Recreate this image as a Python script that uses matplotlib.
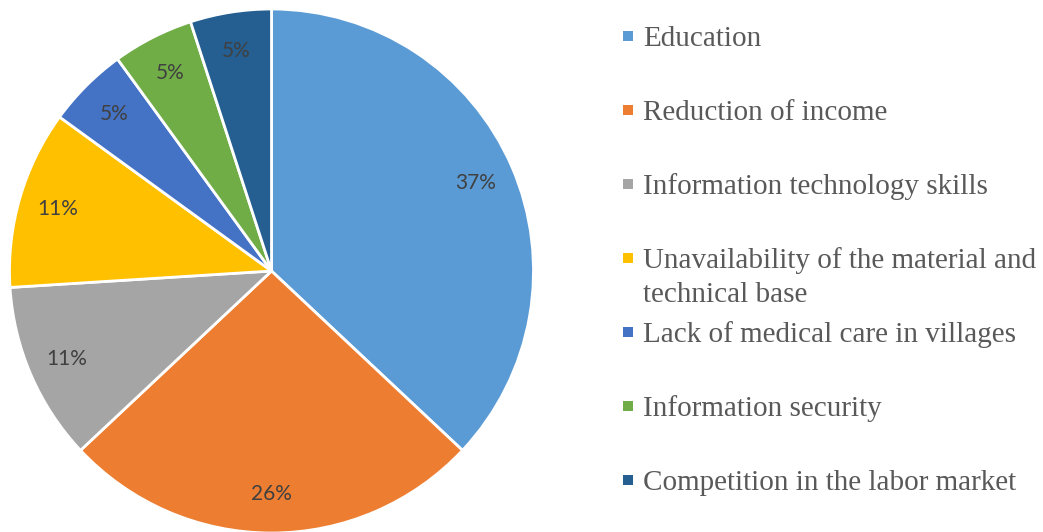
import matplotlib.pyplot as plt
from matplotlib.patches import Rectangle

categories = [
    'Education',
    'Reduction of income',
    'Information technology skills',
    'Unavailability of the material and\ntechnical base',
    'Lack of medical care in villages',
    'Information security',
    'Competition in the labor market',
]
shares = [37, 26, 11, 11, 5, 5, 5]
colors = ['#5B9BD5', '#ED7D31', '#A5A5A5', '#FFC000', '#4472C4', '#70AD47', '#255E91']

W, H = 1043, 532
fig = plt.figure(figsize=(W / 100, H / 100), dpi=100)

# pie axes: circle centred near (271, 271) px, radius ~262 px
cx, cy, r = 271.5, 271, 262
ax = fig.add_axes([(cx - r) / W, (H - cy - r) / H, 2 * r / W, 2 * r / H])
ax.pie(shares, colors=colors, startangle=90, counterclock=False,
       radius=1.0, autopct='%d%%', pctdistance=0.85,
       wedgeprops=dict(edgecolor='white', linewidth=2),
       textprops=dict(color='#404040', fontsize=15, family='Lato'))
ax.set_xlim(-1, 1)
ax.set_ylim(-1, 1)
ax.set_aspect('equal')
ax.axis('off')

# legend drawn by hand: Excel keeps even spacing per entry
y0, step, line_h = 36, 74.0, 34
for i, (lab, col) in enumerate(zip(categories, colors)):
    yc = y0 + i * step
    fig.patches.append(Rectangle((623 / W, (H - yc - 5) / H), 10 / W, 10 / H,
                                 transform=fig.transFigure, facecolor=col,
                                 edgecolor='none'))
    for j, line in enumerate(lab.split('\n')):
        fig.text(643 / W, (H - yc - 10 - j * line_h) / H, line, ha='left',
                 va='baseline', fontsize=21, family='Liberation Serif',
                 color='#595959')

fig.savefig('out.png', dpi=100)
